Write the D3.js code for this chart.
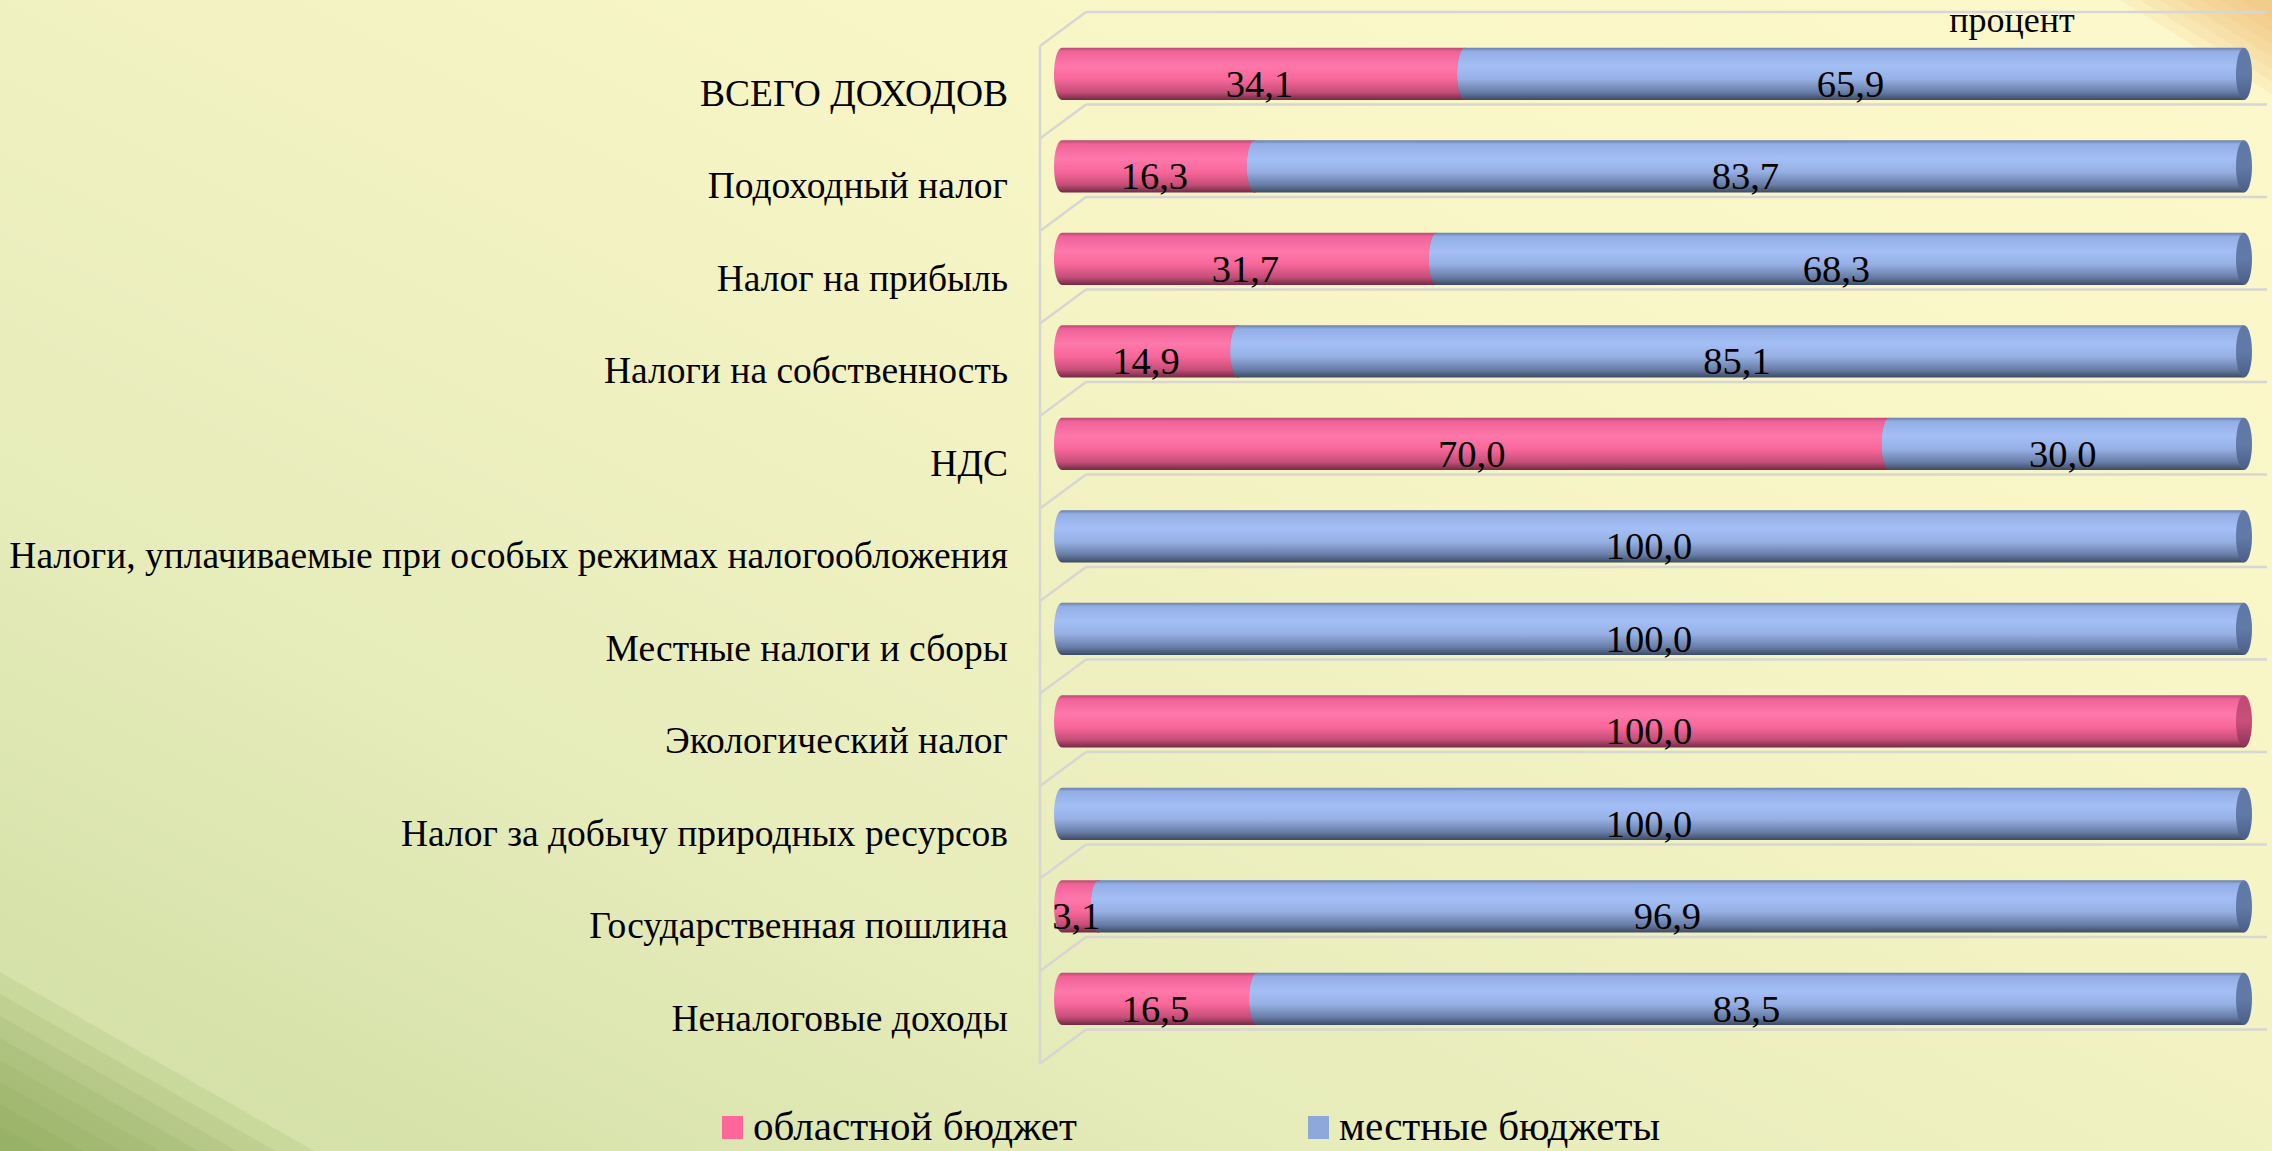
<!DOCTYPE html>
<html lang="ru">
  <head>
    <meta charset="utf-8" />
    <script src="https://d3js.org/d3.v7.min.js"></script>
    <style>
      html,
      body {
        margin: 0;
        padding: 0;
        overflow: hidden;
      }
      text {
        font-family: "Liberation Serif", "Times New Roman", serif;
        fill: #000;
      }
    </style>
    <title>Доходы</title>
  </head>
  <body>
    <div id="chart"></div>
    <script>
      // data
      var categories = [
        "ВСЕГО ДОХОДОВ",
        "Подоходный налог",
        "Налог на прибыль",
        "Налоги на собственность",
        "НДС",
        "Налоги, уплачиваемые при особых режимах налогообложения",
        "Местные налоги и сборы",
        "Экологический налог",
        "Налог за добычу природных ресурсов",
        "Государственная пошлина",
        "Неналоговые доходы",
      ];
      var regional = [34.1, 16.3, 31.7, 14.9, 70.0, 0, 0, 100.0, 0, 3.1, 16.5];
      var local = [65.9, 83.7, 68.3, 85.1, 30.0, 100.0, 100.0, 0, 100.0, 96.9, 83.5];
      var seriesNames = ["областной бюджет", "местные бюджеты"];
      var unitLabel = "процент";

      var W = 2272,
        H = 1151;
      var depthX = 46,
        depthY = -34;
      var wallLeft = 1040,
        wallRight = 2267;

      var svg = d3
        .select("#chart")
        .append("svg")
        .attr("width", W)
        .attr("height", H);

      var defs = svg.append("defs");

      // background
      var bg = defs
        .append("linearGradient")
        .attr("id", "bg")
        .attr("x1", 0)
        .attr("y1", 1)
        .attr("x2", 1)
        .attr("y2", 0);
      [
        [0, "#cfdea2"],
        [0.3, "#e7ecbb"],
        [0.65, "#f7f5c6"],
        [1, "#fdf8cb"],
      ].forEach(function (s) {
        bg.append("stop").attr("offset", s[0]).attr("stop-color", s[1]);
      });
      svg.append("rect").attr("width", W).attr("height", H).attr("fill", "url(#bg)");

      // corner stripes
      var stripes = svg.append("g");
      d3.range(8).forEach(function (k) {
        var b = 972 + k * 22;
        stripes
          .append("polygon")
          .attr("points", [[0, b], [(H - b) / 0.57, H], [0, H]].join(" "))
          .attr("fill", "#7a9c4c")
          .attr("opacity", 0.12);
      });
      d3.range(7).forEach(function (k) {
        var x0 = 2120 + k * 20;
        stripes
          .append("polygon")
          .attr("points", [[x0, 0], [W, (W - x0) * 0.62], [W, 0]].join(" "))
          .attr("fill", "#eeaa58")
          .attr("opacity", 0.11);
      });

      // bar gradients
      function barGradient(id, stops) {
        var g = defs
          .append("linearGradient")
          .attr("id", id)
          .attr("x1", 0)
          .attr("y1", 0)
          .attr("x2", 0)
          .attr("y2", 1);
        stops.forEach(function (s) {
          g.append("stop").attr("offset", s[0]).attr("stop-color", s[1]);
        });
      }
      barGradient("pinkBody", [
        [0, "#b84a72"],
        [0.07, "#ef6298"],
        [0.35, "#ff78aa"],
        [0.6, "#f8679a"],
        [0.85, "#c44e77"],
        [1, "#6e2a44"],
      ]);
      barGradient("blueBody", [
        [0, "#6a80ae"],
        [0.07, "#92aee4"],
        [0.35, "#a3bff6"],
        [0.6, "#96b0e4"],
        [0.85, "#687ca6"],
        [1, "#3c4a62"],
      ]);
      barGradient("pinkCap", [
        [0, "#c04a74"],
        [0.5, "#c8507a"],
        [1, "#8a3252"],
      ]);
      barGradient("blueCap", [
        [0, "#6078a6"],
        [0.5, "#627aa8"],
        [1, "#4a5e84"],
      ]);

      // scales
      var x = d3.scaleLinear().domain([0, 100]).range([1062, 2244]);
      var y = d3.scaleBand().domain(categories).range([46, 1063.5]);
      var barTop = function (c) {
        return y(c) + y.bandwidth() * 0.02;
      };
      var barH = y.bandwidth() * 0.565;

      // walls / gridlines
      var grid = svg
        .append("g")
        .attr("stroke", "#d6d6d2")
        .attr("stroke-width", 2.5)
        .attr("fill", "none");
      var gridYs = categories.map(function (c) {
        return y(c);
      });
      gridYs.push(y.range()[1]);
      gridYs.forEach(function (gy) {
        grid
          .append("line")
          .attr("x1", wallLeft + depthX)
          .attr("x2", wallRight)
          .attr("y1", gy + depthY)
          .attr("y2", gy + depthY);
        grid
          .append("line")
          .attr("x1", wallLeft)
          .attr("x2", wallLeft + depthX)
          .attr("y1", gy)
          .attr("y2", gy + depthY);
      });
      grid
        .append("line")
        .attr("x1", wallLeft)
        .attr("x2", wallLeft)
        .attr("y1", y.range()[0])
        .attr("y2", y.range()[1]);

      // bars (cylinders)
      var rx = 8;
      var rows = categories.map(function (c, i) {
        return { cat: c, segs: [regional[i], local[i]] };
      });
      var bars = svg.append("g");
      var labels = svg.append("g").attr("text-anchor", "middle").style("font-size", "38.5px");

      rows.forEach(function (row) {
        var t = barTop(row.cat),
          b = t + barH,
          ry = barH / 2;
        var acc = 0;
        row.segs.forEach(function (v, si) {
          if (!v) return;
          var x0 = x(acc),
            x1 = x(acc + v);
          acc += v;
          var body = si === 0 ? "pinkBody" : "blueBody";
          var cap = si === 0 ? "pinkCap" : "blueCap";
          bars
            .append("path")
            .attr(
              "d",
              "M" + x0 + "," + t + "L" + x1 + "," + t + "L" + x1 + "," + b +
                "L" + x0 + "," + b + "A" + rx + "," + ry + " 0 0 1 " + x0 + "," + t + "Z"
            )
            .attr("fill", "url(#" + body + ")");
          bars
            .append("ellipse")
            .attr("cx", x1)
            .attr("cy", t + ry)
            .attr("rx", rx)
            .attr("ry", ry)
            .attr("fill", "url(#" + cap + ")");
          labels
            .append("text")
            .attr("x", (x0 + x1) / 2 - 4)
            .attr("y", t + ry + 23)
            .text(d3.format(".1f")(v).replace(".", ","));
        });
      });

      // category labels
      svg
        .append("g")
        .attr("text-anchor", "end")
        .style("font-size", "37.5px")
        .selectAll("text")
        .data(categories)
        .enter()
        .append("text")
        .attr("x", 1008)
        .attr("y", function (d) {
          return barTop(d) + barH / 2 + 32;
        })
        .text(function (d) {
          return d;
        });

      // unit label
      svg
        .append("text")
        .attr("x", 2012)
        .attr("y", 32)
        .attr("text-anchor", "middle")
        .style("font-size", "36px")
        .text(unitLabel);

      // legend
      var legendColors = ["#ff6699", "#8ea8dc"];
      var legendX = [722, 1308];
      var legend = svg.append("g").style("font-size", "41px");
      seriesNames.forEach(function (name, i) {
        legend
          .append("rect")
          .attr("x", legendX[i])
          .attr("y", 1116)
          .attr("width", 21)
          .attr("height", 23)
          .attr("fill", legendColors[i]);
        legend
          .append("text")
          .attr("x", legendX[i] + 31)
          .attr("y", 1140)
          .text(name);
      });
    </script>
  </body>
</html>
